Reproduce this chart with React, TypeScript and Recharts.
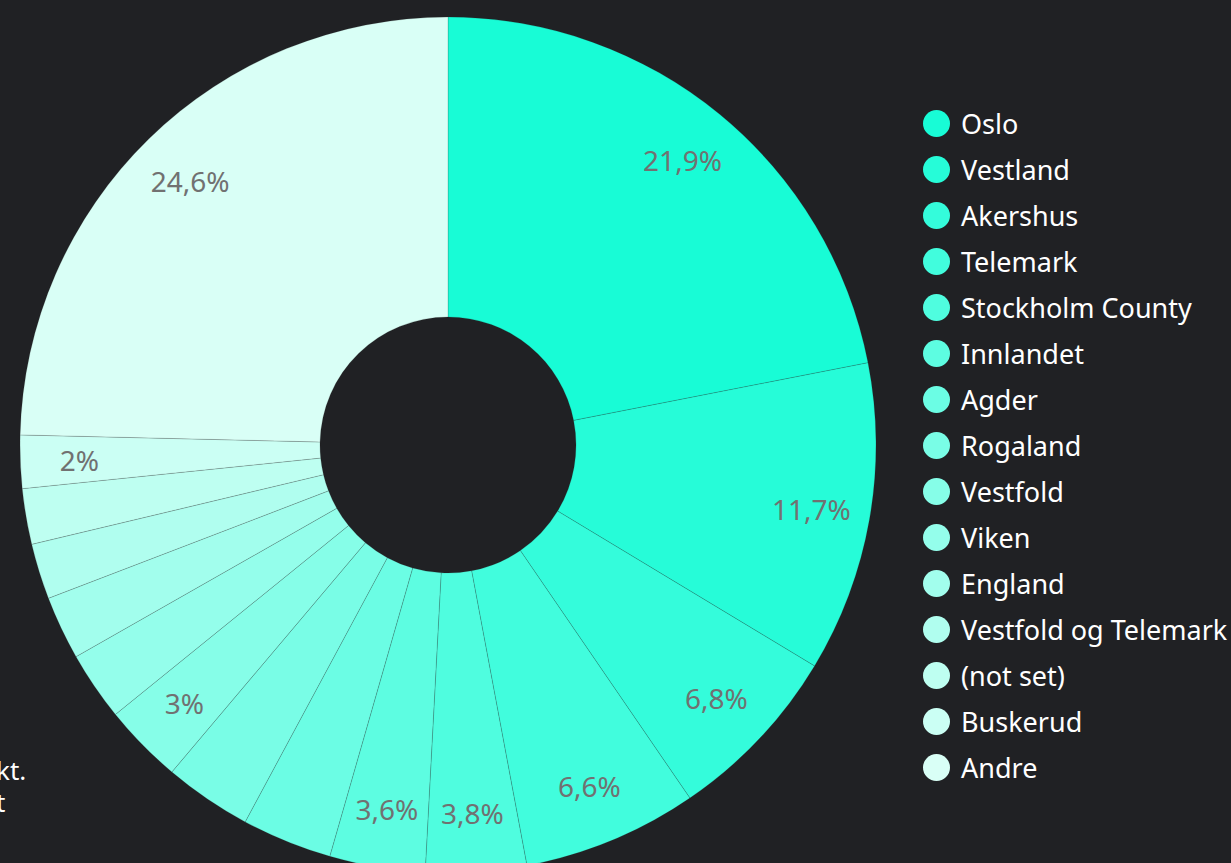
import React from 'react';
import { PieChart, Pie, Cell, Legend } from 'recharts';

const regions = [
  'Oslo',
  'Vestland',
  'Akershus',
  'Telemark',
  'Stockholm County',
  'Innlandet',
  'Agder',
  'Rogaland',
  'Vestfold',
  'Viken',
  'England',
  'Vestfold og Telemark',
  '(not set)',
  'Buskerud',
  'Andre',
];
const shares = [21.9, 11.7, 6.8, 6.6, 3.8, 3.6, 3.4, 3.3, 3.0, 2.6, 2.4, 2.1, 2.1, 2.0, 24.6];
// slices that carry a percentage label in the original
const labelled = ['Oslo', 'Vestland', 'Akershus', 'Telemark', 'Stockholm County', 'Innlandet', 'Vestfold', 'Buskerud', 'Andre'];

const COLORS = [
  '#18FCD6', '#26FCD8', '#34FCDB', '#41FDDD', '#4FFDDF',
  '#5DFDE1', '#6BFDE4', '#79FDE6', '#86FEE8', '#94FEEB',
  '#A2FEED', '#B0FEEF', '#BEFFF1', '#CBFFF4', '#D9FFF6',
];

const data = regions.map((name, i) => ({ name, value: shares[i] }));

const FONT = '"Noto Sans", "Open Sans", sans-serif';
const RAD = Math.PI / 180;

const fmt = (v: number) => v.toFixed(1).replace(/\.0$/, '').replace('.', ',') + '%';

const renderLabel = (props: any) => {
  const { cx, cy, midAngle, name, value } = props;
  if (!labelled.includes(name)) return null;
  const r = 369;
  const x = cx + r * Math.cos(-midAngle * RAD);
  const y = cy + r * Math.sin(-midAngle * RAD);
  return (
    <text x={x} y={y} fill="#717171" fontSize={28} fontFamily={FONT} textAnchor="middle" dominantBaseline="central">
      {fmt(value)}
    </text>
  );
};

const renderLegend = () => (
  <ul style={{ listStyle: 'none', margin: 0, padding: 0, fontFamily: FONT }}>
    {regions.map((name, i) => (
      <li key={name} style={{ display: 'flex', alignItems: 'center', height: 46, color: '#ffffff', fontSize: 27, whiteSpace: 'nowrap' }}>
        <span style={{ width: 27, height: 27, borderRadius: '50%', background: COLORS[i], marginRight: 11, flexShrink: 0 }} />
        {name}
      </li>
    ))}
  </ul>
);

export default function App() {
  return (
    <div style={{ position: 'fixed', left: 0, top: 0, width: 1231, height: 863, background: '#202124', overflow: 'hidden' }}>
      <div style={{ position: 'absolute', left: -4, top: 756, color: '#ffffff', fontFamily: FONT, fontSize: 26, lineHeight: '28px' }}>
        kt.
      </div>
      <div style={{ position: 'absolute', left: -4, top: 788, color: '#ffffff', fontFamily: FONT, fontSize: 26, lineHeight: '28px' }}>
        t
      </div>
      <div style={{ position: 'absolute', left: 0, top: 0 }}>
        <PieChart width={1231} height={863} margin={{ top: 0, right: 0, bottom: 0, left: 0 }}>
          <Pie
            data={data}
            dataKey="value"
            nameKey="name"
            cx={448}
            cy={445}
            innerRadius={128}
            outerRadius={428}
            startAngle={90}
            endAngle={-270}
            stroke="#202124"
            strokeOpacity={0.25}
            strokeWidth={0.7}
            label={renderLabel}
            labelLine={false}
            isAnimationActive={false}
          >
            {data.map((d, i) => (
              <Cell key={d.name} fill={COLORS[i]} />
            ))}
          </Pie>
          <Legend
            content={renderLegend}
            layout="vertical"
            verticalAlign="top"
            align="right"
            wrapperStyle={{ top: 100, left: 923, width: 308 }}
          />
        </PieChart>
      </div>
    </div>
  );
}
